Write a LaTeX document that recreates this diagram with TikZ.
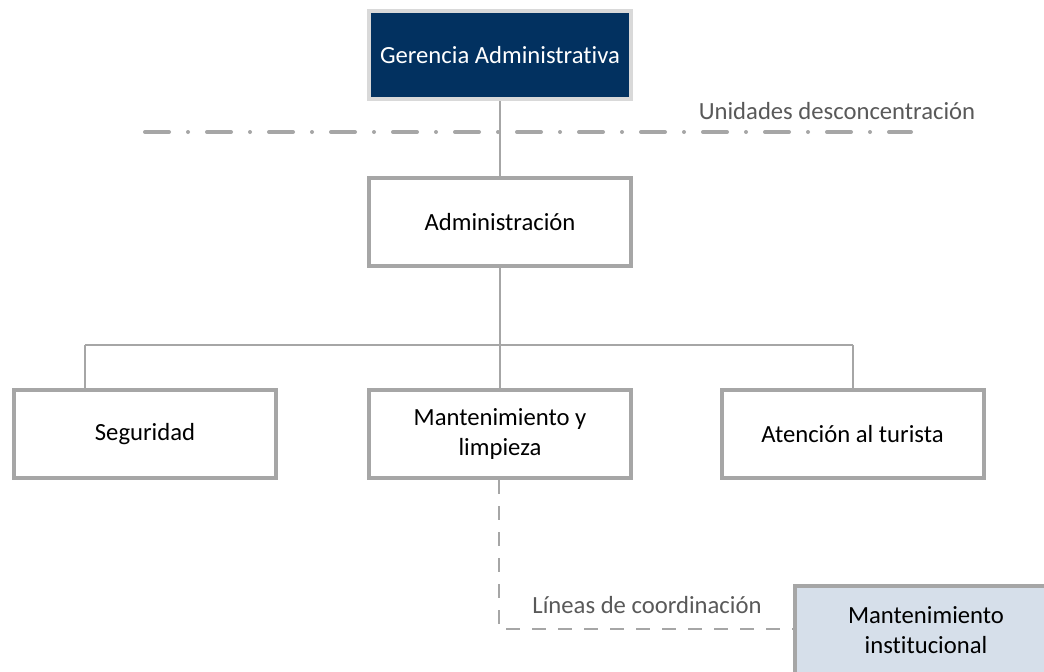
\documentclass[tikz,border=0pt]{standalone}
\usepackage{fontspec}
\setmainfont{Carlito}[Ligatures=NoCommon]
\definecolor{navy}{RGB}{2,49,96}
\definecolor{paleblue}{RGB}{214,223,234}
\definecolor{boxgray}{RGB}{166,166,166}
\definecolor{lightgray}{RGB}{217,217,217}
\definecolor{labelgray}{RGB}{89,89,89}
\begin{document}
\begin{tikzpicture}[x=0.75pt,y=-0.75pt,
  unitbox/.style={draw=boxgray, line width=3pt, fill=white, rectangle,
    minimum width=196.5pt, minimum height=66pt, align=center, inner sep=2pt,
    font=\fontsize{18.5}{22.5}\selectfont},
  topbox/.style={unitbox, draw=lightgray, fill=navy, text=white},
  coordbox/.style={unitbox, fill=paleblue},
  link/.style={draw=boxgray, line width=1.5pt},
  coordlink/.style={draw=boxgray, line width=1.5pt, dash pattern=on 10.5pt off 9pt},
  sepline/.style={draw=boxgray, line width=3pt, line cap=round,
    dash pattern=on 18pt off 14.25pt on 0pt off 14.25pt},
  note/.style={text=labelgray, font=\fontsize{18.5}{22.5}\selectfont, inner sep=0pt}]
\useasboundingbox (0,0) rectangle (1044,671);
\fill[white] (0,0) rectangle (1044,671);
% separator
\coordinate (sepL) at (145,132);
\coordinate (sepR) at (911,132);
\draw[sepline] (sepL) -- (sepR);
\node[note] (unid) at (837,111) {Unidades desconcentración};
% boxes
\node[topbox] (ger) at (500,55) {Gerencia Administrativa};
\node[unitbox] (adm) at (500,222) {Administración};
\node[unitbox] (seg) at (145,434) {Seguridad};
\node[unitbox] (man) at (500,434) {Mantenimiento y\\limpieza};
\node[unitbox] (ate) at (852.5,434) {Atención al turista};
\node[coordbox] (inst) at (926,630) {Mantenimiento\\institucional};
% connectors
\coordinate (bus) at (500,345);
\coordinate (busL) at (85,345);
\coordinate (busR) at (853,345);
\draw[link] (ger.south) -- (adm.north);
\draw[link] (adm.south) -- (bus);
\draw[link] (busL) -- (busR);
\draw[link] (busL) -- (busL |- seg.north);
\draw[link] (busR) -- (busR |- ate.north);
\draw[link] (bus) -- (man.north);
\coordinate (corner) at (499,629);
\draw[coordlink] (man.south -| corner) -- (corner) -- (inst.west |- corner);
\node[note] (lineas) at (647,605) {Líneas de coordinación};
\end{tikzpicture}
\end{document}
